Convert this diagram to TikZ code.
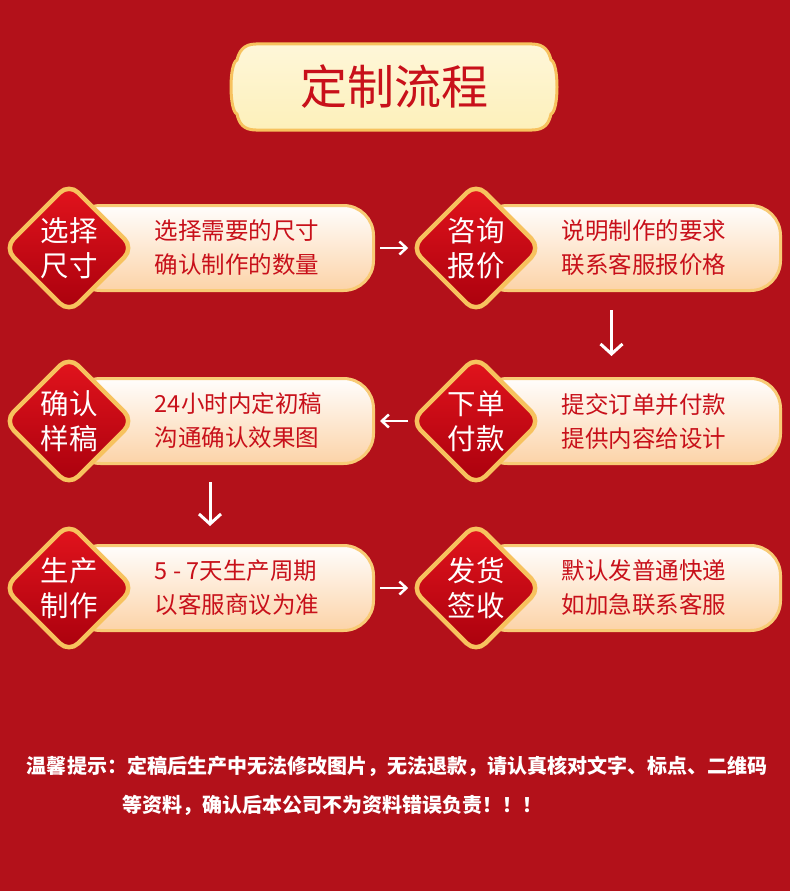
\documentclass[tikz,border=0pt]{standalone}
\usepackage{fontspec}
\setmainfont{Noto Sans CJK SC}
\usepackage{tikz}
\usetikzlibrary{arrows.meta,positioning,shapes.geometric}
\definecolor{bg}{HTML}{B3111A}
\definecolor{gold}{HTML}{F7C25E}
\definecolor{cream}{HTML}{FDF0BA}
\definecolor{rd}{HTML}{C8101A}
\definecolor{rdhi}{HTML}{E3141D}
\definecolor{rdlo}{HTML}{A9000D}
\definecolor{peach}{HTML}{FCD3A8}
\tikzset{
  tag/.style={diamond,draw=gold,line width=4.5pt,rounded corners=13pt,top color=rdhi,bottom color=rdlo,minimum width=131pt,minimum height=131pt,inner sep=0pt,align=center,text=white,font=\fontsize{28.5}{35}\selectfont},
  bar/.style={draw=gold!85!white,line width=3pt,rounded corners=30pt,top color=white!97!peach,bottom color=peach,minimum width=303pt,minimum height=85pt,anchor=west},
  desc/.style={align=left,text=rd,font=\fontsize{23.5}{34}\selectfont,inner sep=0pt},
  flow/.style={draw=white,line width=2.5pt,-{Straight Barb[length=7pt,width=13pt]}},
  flowv/.style={flow,line width=3pt,-{Straight Barb[length=10pt,width=22pt]}},
  note/.style={text=white,font=\bfseries\fontsize{20}{24}\selectfont,inner sep=0pt},
}
\begin{document}
\begin{tikzpicture}[x=1pt,y=-1pt]
\fill[bg] (0,0) rectangle (790,891);
\useasboundingbox (0,0) rectangle (790,891);
% title banner
\path[draw=gold,line width=3pt,top color=cream!55!white,bottom color=cream]
  (256,44) -- (532,44) .. controls (545,44) and (549,52) .. (551,60)
  .. controls (559,63) and (559,111) .. (551,114)
  .. controls (549,123) and (545,130) .. (532,130) -- (256,130)
  .. controls (243,130) and (239,123) .. (237,114)
  .. controls (229,111) and (229,63) .. (237,60)
  .. controls (239,52) and (243,44) .. (256,44) -- cycle;
\node[text=rd,font=\fontsize{47}{50}\selectfont] (ttl) at (394,87) {定制流程};
% bars
\node[bar] (b1) at (69,248) {};
\node[bar] (b2) at (476,248) {};
\node[bar] (b3) at (476,421) {};
\node[bar] (b4) at (69,421) {};
\node[bar] (b5) at (69,588) {};
\node[bar] (b6) at (476,588) {};
% steps
\node[tag] (t1) at (69,248) {选择\\尺寸};
\node[tag] (t2) at (476,248) {咨询\\报价};
\node[tag] (t3) at (476,421) {下单\\付款};
\node[tag] (t4) at (69,421) {确认\\样稿};
\node[tag] (t5) at (69,588) {生产\\制作};
\node[tag] (t6) at (476,588) {发货\\签收};
\node[desc,right=18pt of t1] (d1) {选择需要的尺寸\\确认制作的数量};
\node[desc,right=18pt of t2] (d2) {说明制作的要求\\联系客服报价格};
\node[desc,right=18pt of t3] (d3) {提交订单并付款\\提供内容给设计};
\node[desc,right=18pt of t4] (d4) {24小时内定初稿\\沟通确认效果图};
\node[desc,right=18pt of t5] (d5) {5 - 7天生产周期\\以客服商议为准};
\node[desc,right=18pt of t6] (d6) {默认发普通快递\\如加急联系客服};
% arrows
\draw[flow] ([xshift=5pt]b1.east) -- (t2.west);
\draw[flowv] ([xshift=-17.5pt,yshift=-18pt]b2.south) -- ([xshift=-17.5pt,yshift=21pt]b3.north);
\draw[flow] (t3.west) -- ([xshift=5pt]b4.east);
\draw[flowv] ([xshift=-12pt,yshift=-17pt]b4.south) -- ([xshift=-12pt,yshift=18pt]b5.north);
\draw[flow] ([xshift=5pt]b5.east) -- (t6.west);
% note
\node[note] (n1) at (397,766) {温馨提示：定稿后生产中无法修改图片，无法退款，请认真核对文字、标点、二维码};
\node[note,anchor=west] (n2) at (122,805) {等资料，确认后本公司不为资料错误负责！！！};
\end{tikzpicture}
\end{document}
